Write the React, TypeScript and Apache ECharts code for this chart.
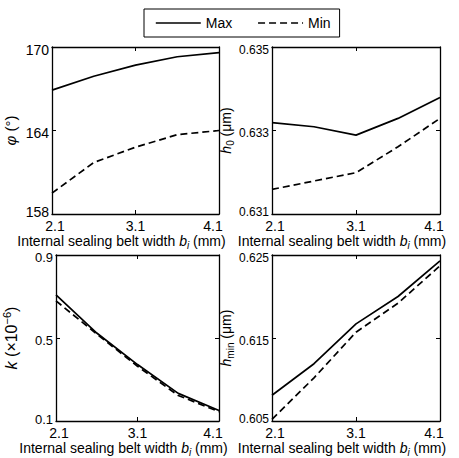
import React, { useEffect, useRef } from 'react';
import * as echarts from 'echarts';

// ---- data ----
const xValues = [2.1, 2.6, 3.1, 3.6, 4.1];
const xTickLabels = ['2.1', '3.1', '4.1'];

const phiMax = [166.9, 167.9, 168.7, 169.3, 169.6];
const phiMin = [159.5, 161.7, 162.8, 163.7, 164.0];
const phiTicks = ['158', '164', '170'];

const h0Max = [0.63319, 0.63309, 0.63289, 0.63329, 0.63379];
const h0Min = [0.63159, 0.63179, 0.63199, 0.63261, 0.63329];
const h0Ticks = ['0.631', '0.633', '0.635'];

const kMax = [0.708, 0.524, 0.372, 0.233, 0.151];
const kMin = [0.679, 0.519, 0.364, 0.223, 0.145];
const kTicks = ['0.1', '0.5', '0.9'];

const hminMax = [0.6081, 0.6119, 0.6167, 0.62, 0.6243];
const hminMin = [0.6052, 0.6102, 0.6157, 0.6192, 0.6237];
const hminTicks = ['0.605', '0.615', '0.625'];

const seriesNames = ['Max', 'Min'];

// ---- layout / style ----
const FONT = "'Liberation Sans', Arial, sans-serif";
const BLACK = '#000';

function richFor(size: number) {
  const small = Math.round(size * 0.68);
  return {
    n: { fontFamily: FONT, fontSize: size, color: BLACK },
    i: { fontFamily: FONT, fontSize: size, color: BLACK, fontStyle: 'italic' },
    sub: { fontFamily: FONT, fontSize: small, color: BLACK, verticalAlign: 'bottom', lineHeight: size + 4 },
    subi: { fontFamily: FONT, fontSize: small, color: BLACK, fontStyle: 'italic', verticalAlign: 'bottom', lineHeight: size + 4 },
    sup: { fontFamily: FONT, fontSize: small, color: BLACK, verticalAlign: 'top', lineHeight: size + 4 },
  };
}

const xTitle = '{n|Internal sealing belt width }{i|b}{subi|i}{n| (mm)}';

const panels = [
  {
    grid: { left: 52, top: 47, width: 167, height: 167 },
    ticks: phiTicks, max: phiMax, min: phiMin,
    yName: '{i|φ}{n| (°)}', yNameSize: 15, yLabelSize: 14, yNameGap: 34,
  },
  {
    grid: { left: 272, top: 47, width: 168, height: 167 },
    ticks: h0Ticks, max: h0Max, min: h0Min,
    yName: '{i|h}{sub|0}{n| (μm)}', yNameSize: 14, yLabelSize: 12, yNameGap: 35,
  },
  {
    grid: { left: 52, top: 255, width: 167, height: 166 },
    ticks: kTicks, max: kMax, min: kMin,
    yName: '{i|k}{n| (×10}{sup|−6}{n|)}', yNameSize: 16, yLabelSize: 13, yNameGap: 35,
  },
  {
    grid: { left: 272, top: 255, width: 168, height: 166 },
    ticks: hminTicks, max: hminMax, min: hminMin,
    yName: '{i|h}{sub|min}{n| (μm)}', yNameSize: 14, yLabelSize: 12, yNameGap: 36,
  },
];

function nearestIndex(labels: string[], v: number) {
  let best = 0;
  let d = Infinity;
  labels.forEach((l, idx) => {
    const dd = Math.abs(Number(l) - v);
    if (dd < d) { d = dd; best = idx; }
  });
  return best;
}

function buildOption() {
  const axisLine = { show: true, onZero: false, lineStyle: { color: BLACK, width: 1.3 } };
  const xCustom = xTickLabels.map(Number);
  const xAxis: any[] = [];
  const yAxis: any[] = [];
  const series: any[] = [];

  const xLabelRich = {
    first: { fontFamily: FONT, fontSize: 14, color: BLACK, padding: [0, 0, 0, 6] },
    mid: { fontFamily: FONT, fontSize: 14, color: BLACK },
    last: { fontFamily: FONT, fontSize: 14, color: BLACK, padding: [0, 12, 0, 0] },
  };

  panels.forEach((p, i) => {
    const yCustom = p.ticks.map(Number);
    const yMin = yCustom[0];
    const yMax = yCustom[yCustom.length - 1];
    const yLabelRich = {
      lo: { fontFamily: FONT, fontSize: p.yLabelSize, color: BLACK, padding: [0, 0, 4, 0] },
      hi: { fontFamily: FONT, fontSize: p.yLabelSize, color: BLACK, padding: [5, 0, 0, 0] },
    };
    xAxis.push({
      gridIndex: i, type: 'value', position: 'bottom',
      min: xValues[0], max: xValues[xValues.length - 1],
      axisLine,
      axisTick: { show: true, inside: true, length: 4, customValues: xCustom, lineStyle: { color: BLACK, width: 1 } },
      axisLabel: {
        show: true, customValues: xCustom, margin: 5,
        formatter: (v: number) => {
          const k = nearestIndex(xTickLabels, v);
          const tag = k === 0 ? 'first' : k === xTickLabels.length - 1 ? 'last' : 'mid';
          return `{${tag}|${xTickLabels[k]}}`;
        },
        rich: xLabelRich,
        fontFamily: FONT, fontSize: 14, color: BLACK,
      },
      splitLine: { show: false },
      name: xTitle, nameLocation: 'middle', nameGap: 18,
      nameTextStyle: { fontFamily: FONT, fontSize: 14, color: BLACK, padding: [0, 28, 0, 0], rich: richFor(14) },
    });
    xAxis.push({
      gridIndex: i, type: 'value', position: 'top',
      min: xValues[0], max: xValues[xValues.length - 1],
      axisLine,
      axisTick: { show: true, inside: true, length: 4, customValues: xCustom, lineStyle: { color: BLACK, width: 1 } },
      axisLabel: { show: false },
      splitLine: { show: false },
    });
    yAxis.push({
      gridIndex: i, type: 'value', position: 'left',
      min: yMin, max: yMax,
      axisLine,
      axisTick: { show: true, inside: true, length: 4, customValues: yCustom, lineStyle: { color: BLACK, width: 1 } },
      axisLabel: {
        show: true, customValues: yCustom, margin: 3,
        formatter: (v: number) => {
          const k = nearestIndex(p.ticks, v);
          return `{${k === 0 ? 'lo' : 'hi'}|${p.ticks[k]}}`;
        },
        rich: yLabelRich,
        fontFamily: FONT, fontSize: p.yLabelSize, color: BLACK,
      },
      splitLine: { show: false },
      name: p.yName, nameLocation: 'middle', nameRotate: 90, nameGap: p.yNameGap,
      nameTextStyle: { fontFamily: FONT, fontSize: p.yNameSize, color: BLACK, rich: richFor(p.yNameSize) },
    });
    yAxis.push({
      gridIndex: i, type: 'value', position: 'right',
      min: yMin, max: yMax,
      axisLine,
      axisTick: { show: true, inside: true, length: 4, customValues: yCustom, lineStyle: { color: BLACK, width: 1 } },
      axisLabel: { show: false },
      splitLine: { show: false },
    });

    const pairs = [p.max, p.min];
    pairs.forEach((vals, j) => {
      series.push({
        name: seriesNames[j],
        type: 'line',
        xAxisIndex: 2 * i,
        yAxisIndex: 2 * i,
        symbol: 'none',
        data: xValues.map((x, k) => [x, vals[k]]),
        lineStyle: { color: BLACK, width: 1.7, type: j === 0 ? 'solid' : [7, 4] },
        itemStyle: { color: BLACK },
        z: 3,
      });
    });
  });

  return {
    animation: false,
    backgroundColor: '#fff',
    legend: {
      data: seriesNames,
      left: 144, top: 9,
      padding: [7, 9, 7, 11],
      itemWidth: 45, itemHeight: 14, itemGap: 25,
      borderColor: BLACK, borderWidth: 1,
      itemStyle: { opacity: 0 },
      lineStyle: { width: 1.6 },
      textStyle: { fontFamily: FONT, fontSize: 14, color: BLACK },
      selectedMode: false,
    },
    grid: panels.map((p) => ({ ...p.grid, containLabel: false })),
    xAxis,
    yAxis,
    series,
  };
}

export default function App() {
  const ref = useRef<HTMLDivElement>(null);
  useEffect(() => {
    if (!ref.current) return;
    const chart = echarts.init(ref.current, undefined, { renderer: 'svg' });
    chart.setOption(buildOption() as any);
    return () => chart.dispose();
  }, []);
  return (
    <div
      ref={ref}
      style={{ position: 'fixed', left: 0, top: 0, width: 459, height: 458, background: '#fff' }}
    />
  );
}
